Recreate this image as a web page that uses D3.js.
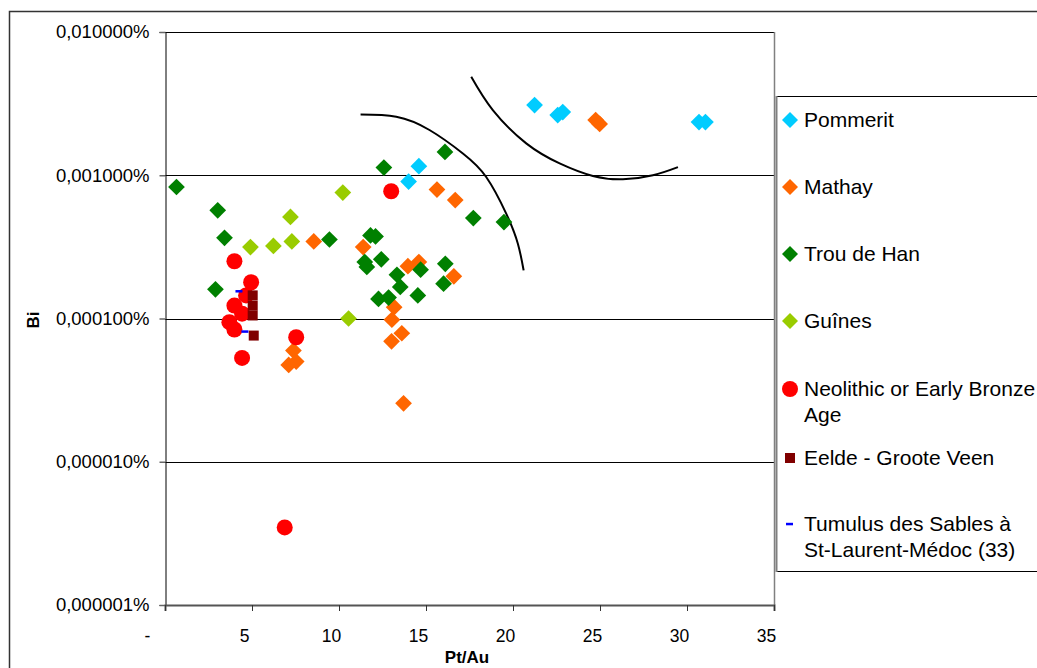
<!DOCTYPE html>
<html>
<head>
<meta charset="utf-8">
<style>
  body { margin: 0; background: #fff; }
  svg { display: block; font-family: "Liberation Sans", Arial, sans-serif; }
</style>
<script src="https://d3js.org/d3.v7.min.js"></script>
</head>
<body>
<svg width="1037" height="668"></svg>
<script>
// values in percent
var pommeritX = [21.24, 22.57, 22.86, 30.69, 31.06, 14.59, 14.00];
var pommeritY = [0.00309, 0.00263, 0.00276, 0.00235, 0.00235, 0.001156, 0.000903];

var mathayX = [24.75, 24.98, 15.63, 16.68, 11.39, 13.96, 14.59, 16.60, 13.17, 13.04, 13.61, 13.02, 13.71, 8.55, 7.38, 7.54, 7.11];
var mathayY = [0.00243, 0.00228, 0.000794, 0.000671, 0.000315, 0.000232, 0.000248, 0.000197, 0.000120, 0.0000980, 0.0000789, 0.0000693, 0.0000256, 0.000345, 0.0000597, 0.0000500, 0.0000474];

var trouX = [0.66, 3.03, 3.42, 9.45, 2.90, 12.58, 16.09, 17.72, 19.48, 11.81, 12.10, 11.48, 11.60, 12.43, 13.33, 13.52, 14.69, 14.53, 16.11, 16.01, 12.27, 12.85];
var trouY = [0.000828, 0.000569, 0.000366, 0.000356, 0.000160, 0.001132, 0.001455, 0.000502, 0.000471, 0.000380, 0.000374, 0.000248, 0.000229, 0.000259, 0.000202, 0.000166, 0.000219, 0.000145, 0.000241, 0.000175, 0.000137, 0.000140];

var guinesX = [10.22, 7.21, 4.91, 6.23, 7.29, 10.55];
var guinesY = [0.000757, 0.000512, 0.000315, 0.000321, 0.000345, 0.000100];

var neoX = [3.99, 4.95, 4.66, 3.99, 4.43, 3.70, 3.99, 7.54, 4.43, 6.88, 13.0];
var neoY = [0.000251, 0.000179, 0.000145, 0.000123, 0.000108, 0.0000943, 0.0000838, 0.0000740, 0.0000531, 0.00000348, 0.000773];

var eeldeX = [5.04, 5.04, 5.04, 5.10];
var eeldeY = [0.000145, 0.000123, 0.000105, 0.0000760];

var tumulusX = [4.28, 4.62];
var tumulusY = [0.000155, 0.0000811];

// hand-drawn group boundaries (data units)
var curve1X = [11.24, 13.29, 15.20, 17.12, 18.46, 19.61, 20.28, 20.61];
var curve1Y = [0.00265, 0.00256, 0.00207, 0.00142, 0.000973, 0.000540, 0.000333, 0.000217];
var curve2X = [17.60, 18.84, 20.76, 22.68, 24.59, 26.32, 28.04, 29.48];
var curve2Y = [0.00487, 0.00285, 0.00167, 0.00121, 0.000989, 0.000937, 0.001, 0.00114];

var xTicks = [0, 5, 10, 15, 20, 25, 30, 35];
var yTicks = [0.000001, 0.00001, 0.0001, 0.001, 0.01];

var series = [
  {name: ["Pommerit"], xs: pommeritX, ys: pommeritY, shape: "diamond", color: "#00CCFF"},
  {name: ["Mathay"], xs: mathayX, ys: mathayY, shape: "diamond", color: "#FF6600"},
  {name: ["Trou de Han"], xs: trouX, ys: trouY, shape: "diamond", color: "#008000"},
  {name: ["Guînes"], xs: guinesX, ys: guinesY, shape: "diamond", color: "#99CC00"},
  {name: ["Neolithic or Early Bronze", "Age"], xs: neoX, ys: neoY, shape: "circle", color: "#FF0000"},
  {name: ["Eelde - Groote Veen"], xs: eeldeX, ys: eeldeY, shape: "square", color: "#800000"},
  {name: ["Tumulus des Sables à", "St-Laurent-Médoc (33)"], xs: tumulusX, ys: tumulusY, shape: "dash", color: "#0000FF"}
];

var svg = d3.select("svg");
var pLeft = 165, pRight = 774, pTop = 32, pBottom = 605;

var x = d3.scaleLinear().domain([0, 35]).range([pLeft, pRight]);
var y = d3.scaleLog().domain([0.000001, 0.01]).range([pBottom, pTop]);

// outer chart border
svg.append("path")
  .attr("d", "M9.5,700 V11.5 H1100")
  .attr("fill", "none").attr("stroke", "#333").attr("stroke-width", 1.5);

// gridlines
svg.append("g").selectAll("line")
  .data(yTicks.slice(1))
  .enter().append("line")
  .attr("x1", pLeft).attr("x2", pRight)
  .attr("y1", function(d) { return Math.round(y(d)) + 0.5; })
  .attr("y2", function(d) { return Math.round(y(d)) + 0.5; })
  .attr("stroke", "#000").attr("stroke-width", 1);

// right border of plot
svg.append("line")
  .attr("x1", pRight + 0.5).attr("x2", pRight + 0.5)
  .attr("y1", pTop).attr("y2", pBottom)
  .attr("stroke", "#808080").attr("stroke-width", 1.5);

// y axis
var yAxis = svg.append("g")
  .attr("transform", "translate(" + (pLeft + 0.5) + ",0)")
  .call(d3.axisLeft(y).tickValues(yTicks).tickSizeOuter(0).tickSize(6).tickPadding(10)
    .tickFormat(function(d) { return d3.format(".6f")(d).replace(".", ",") + "%"; }));
yAxis.select(".domain").attr("stroke", "#000");
yAxis.selectAll(".tick line").attr("stroke", "#666").attr("stroke-width", 1.5);
yAxis.selectAll("text").attr("font-size", 18.5).attr("fill", "#000")
  .attr("font-family", "Liberation Sans, Arial, sans-serif");

// x axis
var xAxis = svg.append("g")
  .attr("transform", "translate(0," + pBottom + ")")
  .call(d3.axisBottom(x).tickValues(xTicks).tickSizeOuter(0).tickSize(6).tickPadding(19)
    .tickFormat(function(d) { return d === 0 ? "-" : d; }));
xAxis.select(".domain").attr("stroke", "#555").attr("stroke-width", 2);
xAxis.selectAll(".tick line").attr("stroke", "#333");
xAxis.selectAll("text").attr("font-size", 17.5).attr("fill", "#000")
  .attr("font-family", "Liberation Sans, Arial, sans-serif")
  .attr("dx", function(d) { return d === 0 ? -18 : -8; });

// axis titles
svg.append("text")
  .attr("x", 467).attr("y", 663)
  .attr("text-anchor", "middle").attr("font-weight", "bold").attr("font-size", 17)
  .text("Pt/Au");
svg.append("text")
  .attr("transform", "translate(39,320) rotate(-90)")
  .attr("text-anchor", "middle").attr("font-weight", "bold").attr("font-size", 17)
  .text("Bi");

// boundary curves
var line = d3.line()
  .x(function(d) { return x(d[0]); })
  .y(function(d) { return y(d[1]); })
  .curve(d3.curveNatural);
[[curve1X, curve1Y], [curve2X, curve2Y]].forEach(function(c) {
  svg.append("path")
    .attr("d", line(d3.zip(c[0], c[1])))
    .attr("fill", "none").attr("stroke", "#000").attr("stroke-width", 2);
});

function drawMarker(sel, shape, color, size) {
  if (shape === "diamond") {
    sel.append("path").attr("d", d3.symbol(d3.symbolSquare, size)()).attr("transform", "rotate(45)").attr("fill", color);
  } else if (shape === "circle") {
    sel.append("circle").attr("r", 8).attr("fill", color);
  } else if (shape === "square") {
    sel.append("rect").attr("x", -5).attr("y", -5).attr("width", 10).attr("height", 10).attr("fill", color);
  } else {
    sel.append("rect").attr("x", -4).attr("y", -1.2).attr("width", 7).attr("height", 2.5).attr("fill", color);
  }
}

// points
series.forEach(function(s) {
  var pts = d3.zip(s.xs, s.ys);
  var g = svg.append("g").selectAll("g")
    .data(pts)
    .enter().append("g")
    .attr("transform", function(d) { return "translate(" + x(d[0]) + "," + y(d[1]) + ")"; });
  drawMarker(g, s.shape, s.color, 140);
});

// legend
var legendY = [120, 187, 254, 321, 389, 458, 524];
svg.append("path")
  .attr("d", "M1100,96.5 H776.5 V571.5 H1100")
  .attr("fill", "#fff").attr("stroke", "#000").attr("stroke-width", 1);
svg.append("line")
  .attr("x1", 776.5).attr("x2", 776.5).attr("y1", 96).attr("y2", 572)
  .attr("stroke", "#808080").attr("stroke-width", 2);

var item = svg.append("g").selectAll("g")
  .data(series)
  .enter().append("g")
  .attr("transform", function(d, i) { return "translate(790," + legendY[i] + ")"; });
item.each(function(s) {
  var g = d3.select(this);
  drawMarker(g, s.shape, s.color, 128);
  var t = g.append("text").attr("x", 14).attr("y", 0)
    .attr("font-size", 21).attr("fill", "#000");
  s.name.forEach(function(n, j) {
    t.append("tspan").attr("x", 14).attr("dy", j === 0 ? "0.35em" : 26).text(n);
  });
});
</script>
</body>
</html>
